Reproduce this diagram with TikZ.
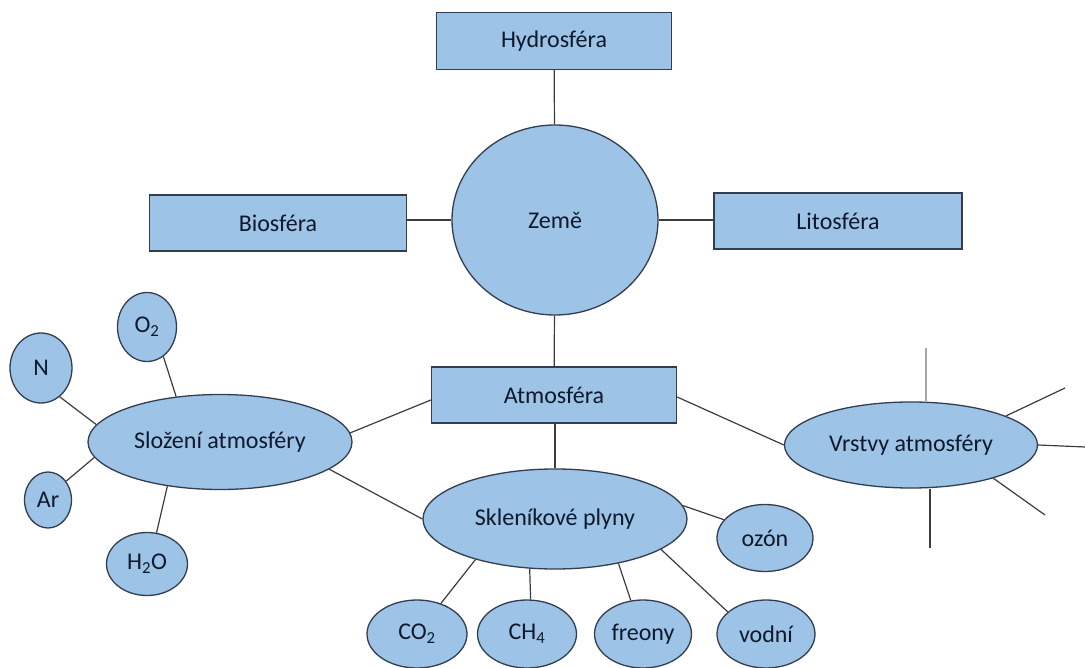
\documentclass[tikz,border=0pt]{standalone}
\usepackage{xcolor}
\usepackage{fontspec}
\setmainfont{Carlito}
\usepackage{tikz}
\usetikzlibrary{shapes, positioning, calc}

\definecolor{fillblue}{RGB}{157,195,230}
\definecolor{edgeblue}{RGB}{50,62,80}
\definecolor{textnavy}{RGB}{15,25,45}
\definecolor{linegray}{RGB}{60,60,60}

\begin{document}
\begin{tikzpicture}[x=1pt, y=-1pt, font=\fontsize{24}{28}\selectfont\color{textnavy},
    box/.style={rectangle, draw=edgeblue, fill=fillblue, line width=1.3pt, inner sep=0pt},
    oval/.style={ellipse, draw=edgeblue, fill=fillblue, line width=1.3pt, inner sep=0pt},
    link/.style={draw=linegray, line width=1.2pt}]
    \useasboundingbox (0,0) rectangle (1085,668);

    % sfery
    \node [box, minimum width=235, minimum height=57] (hydro) at (554,41) {Hydrosféra};
    \node [oval, minimum width=206, minimum height=190] (zeme) at (555,220) {Země};
    \node [box, minimum width=257, minimum height=56] (bio) at (278,223) {Biosféra};
    \node [box, minimum width=248, minimum height=56] (lito) at (838,221) {Litosféra};
    \node [box, minimum width=245, minimum height=56] (atmo) at (554,395) {Atmosféra};

    \draw [link] (hydro) -- (zeme);
    \draw [link] (bio.east |- zeme.west) -- (zeme.west);
    \draw [link] (zeme.east) -- (lito.west |- zeme.east);
    \draw [link] (zeme) -- (atmo);

    % slozeni
    \node [oval, minimum width=264, minimum height=95] (slozeni) at (220,442) {Složení atmosféry};
    \node [oval, minimum width=59, minimum height=69] (o2) at (147,327) {O\textsubscript{2}};
    \node [oval, minimum width=62, minimum height=70] (n) at (41,368) {N};
    \node [oval, minimum width=47, minimum height=56] (ar) at (48,500) {Ar};
    \node [oval, minimum width=81, minimum height=63] (h2o) at (147,564) {H\textsubscript{2}O};

    \draw [link] (o2.299) -- (slozeni.134);
    \draw [link] (n.303) -- (slozeni.172);
    \draw [link] (ar.46) -- (slozeni.187);
    \draw [link] (h2o.73) -- (slozeni.220);
    \draw [link] ([yshift=-5pt]atmo.west) -- (slozeni.4);

    % sklenikove plyny
    \node [oval, minimum width=264, minimum height=100] (sklen) at (555,519) {Skleníkové plyny};
    \node [oval, minimum width=96, minimum height=67] (ozon) at (765,538) {ozón};
    \node [oval, minimum width=100, minimum height=68] (co2) at (417,634) {CO\textsubscript{2}};
    \node [oval, minimum width=99, minimum height=68] (ch4) at (527,634) {CH\textsubscript{4}};
    \node [oval, minimum width=97, minimum height=68] (freony) at (643,634) {freony};
    \node [oval, minimum width=98, minimum height=68] (vodni) at (766,634) {vodní};

    \draw [link] (atmo.south -| sklen.north) -- (sklen.north);
    \draw [link] (slozeni.346) -- (sklen.west);
    \draw [link] (sklen.6) -- (ozon.156);
    \draw [link] (sklen.207) -- (co2.52);
    \draw [link] (sklen.243) -- (ch4.84);
    \draw [link] (sklen.325) -- (freony.110);
    \draw [link] (sklen.344) -- (vodni.150);

    % vrstvy
    \node [oval, minimum width=253, minimum height=86] (vrstvy) at (911,445) {Vrstvy atmosféry};
    \coordinate (v1) at (926,348);
    \coordinate (v2) at (1065,388);
    \coordinate (v3) at (1085,447);
    \coordinate (v4) at (1045,515);
    \coordinate (v5) at (930,548);

    \draw [link] ([yshift=-2pt]atmo.east) -- (vrstvy.west);
    \draw [link, draw=gray!70] (v1) -- (v1 |- vrstvy.north);
    \draw [link] (vrstvy.17) -- (v2);
    \draw [link] (vrstvy.east) -- (v3);
    \draw [link] (vrstvy.338) -- (v4);
    \draw [link] (v5 |- vrstvy.south) -- (v5);
\end{tikzpicture}
\end{document}
